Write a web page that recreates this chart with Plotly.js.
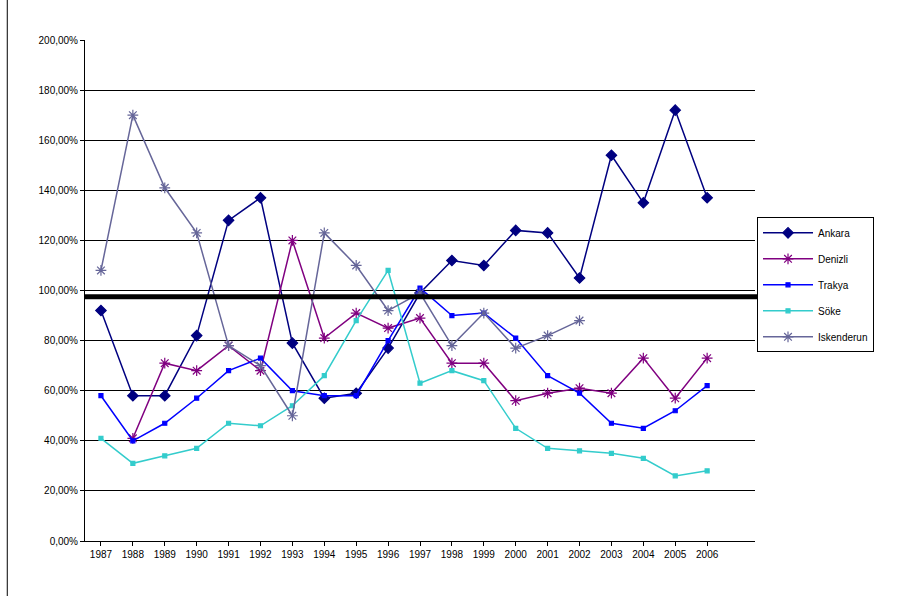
<!DOCTYPE html>
<html><head><meta charset="utf-8">
<script src="https://cdn.plot.ly/plotly-3.0.1.min.js"></script>
<style>body{margin:0;background:#fff}</style></head>
<body><div id="c" style="width:910px;height:596px"></div>
<script>
const years=['1987','1988','1989','1990','1991','1992','1993','1994','1995','1996','1997','1998','1999','2000','2001','2002','2003','2004','2005','2006'];
const ankara=[92,58,58,82,128,137,79,57,59,77,99,112,110,124,123,105,154,135,172,137];
const denizli=[null,41,71,68,78,68,120,81,91,85,89,71,71,56,59,61,59,73,57,73];
const trakya=[58,40,47,57,68,73,60,58,58,80,101,90,91,81,66,59,47,45,52,62];
const soke=[41,31,34,37,47,46,54,66,88,108,63,68,64,45,37,36,35,33,26,28];
const iskenderun=[108,170,141,123,78,70,50,123,110,92,99,78,91,77,82,88];
const pct=a=>a.map(v=>v==null?null:v/100);
function tr(name,y,color,sym,size){return {x:years.slice(0,y.length),y:pct(y),name:name,legendgroup:name,mode:'lines+markers',
 line:{color:color,width:1.5},marker:{symbol:sym,size:size,color:color,line:{color:color,width:1.2}},connectgaps:false};}
const data=[
 tr('Ankara',ankara,'#000080','diamond',8),
 tr('Denizli',denizli,'#800080','asterisk-open',9),
 tr('Trakya',trakya,'#0000FF','square',4),
 tr('Söke',soke,'#33CCCC','square',4),
 tr('Iskenderun',iskenderun,'#666699','asterisk-open',9)];
Plotly.newPlot('c',data,{
 width:910,height:596,margin:{l:85,r:155,t:40,b:55},
 paper_bgcolor:'#fff',plot_bgcolor:'#fff',
 font:{family:'Liberation Sans, Arial',size:10,color:'#000'},
 xaxis:{type:'category',range:[-0.5,20.5],showgrid:false,showline:true,linecolor:'#000',ticks:'outside',tickcolor:'#000',ticklen:4,tickfont:{size:10}},
 yaxis:{range:[0,2],dtick:0.2,tickformat:'.2%',showgrid:true,gridcolor:'#000',gridwidth:1,showline:true,linecolor:'#000',ticks:'outside',tickcolor:'#000',ticklen:4,zeroline:false,tickfont:{size:10}},
 separators:',.',
 showlegend:true,
 legend:{x:1.003,y:0.646,xanchor:'left',yanchor:'top',bordercolor:'#000',borderwidth:1,font:{size:10},tracegroupgap:7,itemwidth:50,traceorder:'grouped'},
 shapes:[{type:'line',xref:'paper',yref:'y',x0:0,x1:1.015,y0:0.975,y1:0.975,line:{color:'#000',width:5}},
  {type:'line',xref:'paper',yref:'paper',x0:-0.116,x1:-0.116,y0:-0.11,y1:1.08,line:{color:'#000',width:1}}]
},{displayModeBar:false});
</script></body></html>
